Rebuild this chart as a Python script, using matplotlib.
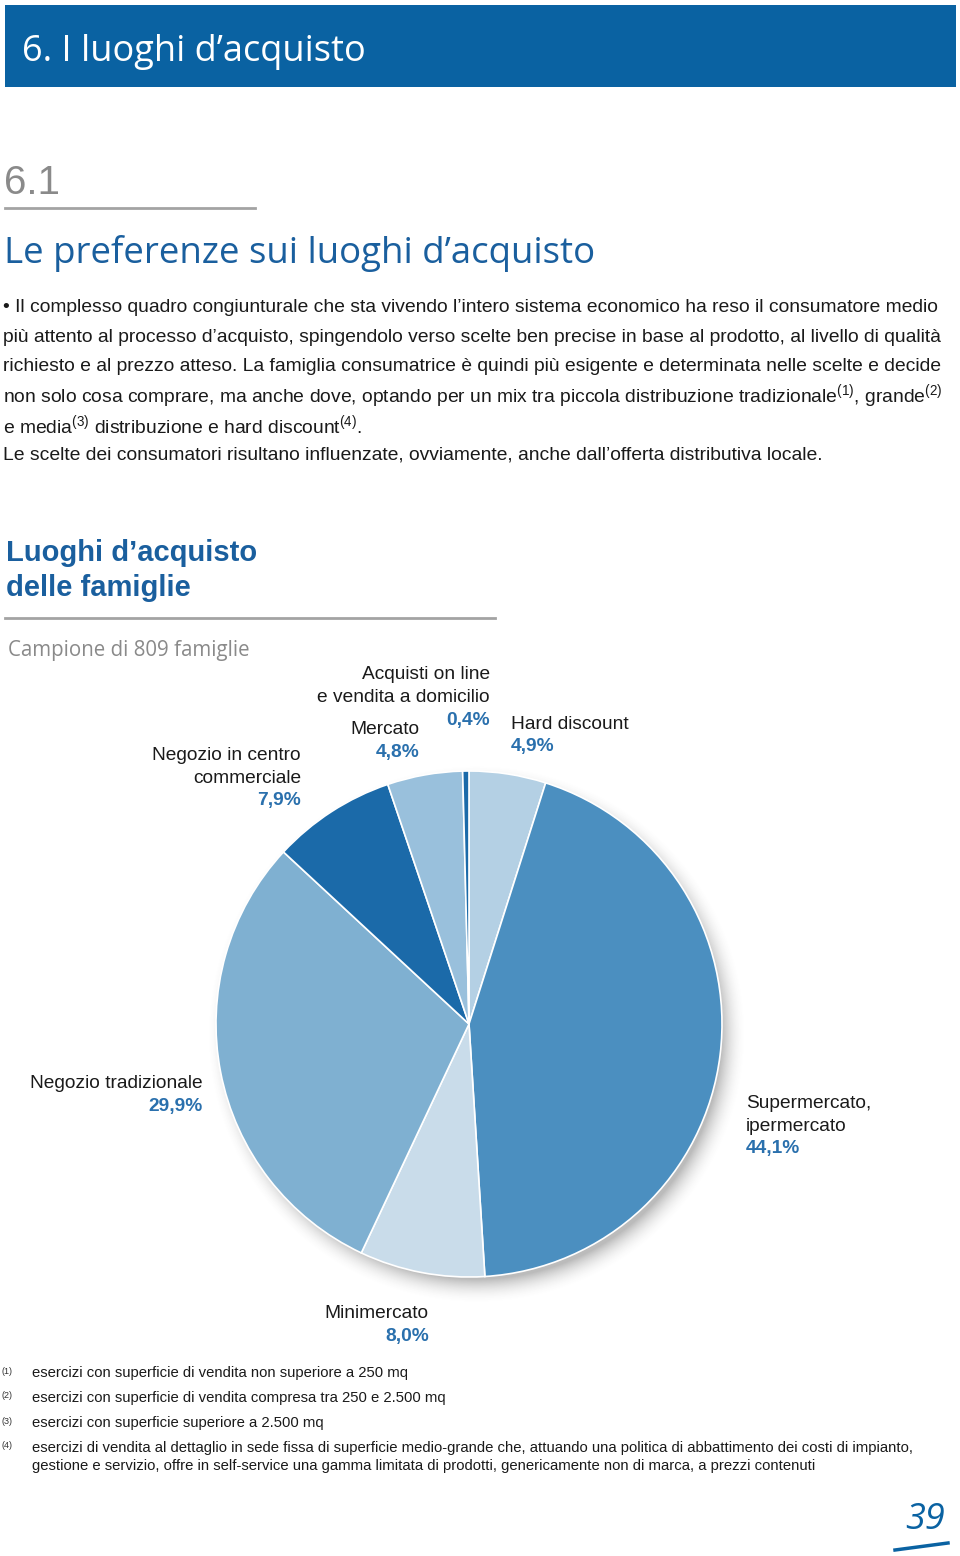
import numpy as np
import matplotlib
matplotlib.use("Agg")
import matplotlib.pyplot as plt
from matplotlib.patches import Rectangle

plt.rcParams['font.family'] = ['Liberation Sans', 'DejaVu Sans']
plt.rcParams['mathtext.fontset'] = 'custom'
plt.rcParams['mathtext.rm'] = 'Liberation Sans'

# ---- data ----
categories = ["Hard discount", "Supermercato,\nipermercato", "Minimercato",
              "Negozio tradizionale", "Negozio in centro\ncommerciale",
              "Mercato", "Acquisti on line\ne vendita a domicilio"]
shares = [4.9, 44.1, 8.0, 29.9, 7.9, 4.8, 0.4]
slice_colors = ["#b4d0e4", "#4b8fc0", "#c9dcea", "#7fb0d1", "#1b6aa9", "#99c0dc", "#1b6aa9"]

body_lines = [
    "• Il complesso quadro congiunturale che sta vivendo l’intero sistema economico ha reso il consumatore medio",
    "più attento al processo d’acquisto, spingendolo verso scelte ben precise in base al prodotto, al livello di qualità",
    "richiesto e al prezzo atteso. La famiglia consumatrice è quindi più esigente e determinata nelle scelte e decide",
    r"non solo cosa comprare, ma anche dove, optando per un mix tra piccola distribuzione tradizionale$^{\mathrm{(1)}}$, grande$^{\mathrm{(2)}}$",
    r"e media$^{\mathrm{(3)}}$ distribuzione e hard discount$^{\mathrm{(4)}}$.",
    "Le scelte dei consumatori risultano influenzate, ovviamente, anche dall’offerta distributiva locale.",
]
footnotes = [
    ("(1)", "esercizi con superficie di vendita non superiore a 250 mq"),
    ("(2)", "esercizi con superficie di vendita compresa tra 250 e 2.500 mq"),
    ("(3)", "esercizi con superficie superiore a 2.500 mq"),
    ("(4)", "esercizi di vendita al dettaglio in sede fissa di superficie medio-grande che, attuando una politica di abbattimento dei costi di impianto,\n"
            "gestione e servizio, offre in self-service una gamma limitata di prodotti, genericamente non di marca, a prezzi contenuti"),
]

W, H = 960, 1556
BLUE = "#0a62a2"
PCT = "#2a70ad"
GRAY = "#8a8a8a"

fig = plt.figure(figsize=(W / 100, H / 100), dpi=100)
fig.patch.set_facecolor("white")


def px(x, y):
    return x / W, 1 - y / H


def txt(x, y, s, **kw):
    kw.setdefault("va", "center")
    fig.text(*px(x, y), s, **kw)


# header band
fig.patches.append(Rectangle(px(5, 87), 951 / W, 82 / H, transform=fig.transFigure,
                             facecolor=BLUE, edgecolor="none"))
txt(22, 52, "6. I luoghi d’acquisto", color="white", fontsize=26,
    family=["Open Sans", "DejaVu Sans"])

# section number and title
txt(4, 183, "6.1", color=GRAY, fontsize=29)
fig.lines.append(plt.Line2D([5 / W, 255 / W], [1 - 208 / H, 1 - 208 / H],
                            transform=fig.transFigure, color="#8c8c8c", lw=2, alpha=0.8))
txt(4, 254, "Le preferenze sui luoghi d’acquisto", color="#1a5f9e", fontsize=26.4,
    family=["Open Sans", "DejaVu Sans"])

# body text
for i, line in enumerate(body_lines):
    txt(3, 308 + i * 29.4, line, color="#1a1a1a", fontsize=13.9)

# chart title
txt(6, 553, "Luoghi d’acquisto", color="#1a5f9e", fontsize=21, fontweight="bold")
txt(6, 588, "delle famiglie", color="#1a5f9e", fontsize=21, fontweight="bold")
fig.lines.append(plt.Line2D([5 / W, 495 / W], [1 - 618 / H, 1 - 618 / H],
                            transform=fig.transFigure, color="#8c8c8c", lw=2, alpha=0.8))
txt(8, 650, "Campione di 809 famiglie", color=GRAY, fontsize=14.8,
    family=["Open Sans", "DejaVu Sans"])

# pie
cx, cy, R = 469, 1024, 253
half = 300
ax = fig.add_axes([(cx - half) / W, (H - cy - half) / H, 2 * half / W, 2 * half / H])
lim = half / R
ax.set_xlim(-lim, lim)
ax.set_ylim(-lim, lim)
ax.set_aspect("equal")
ax.axis("off")

# soft drop shadow
g = np.linspace(-lim, lim, 600)
gx, gy = np.meshgrid(g, g)
d = np.hypot(gx - 0.03, gy + 0.04)
alpha = 0.38 * np.clip((1.07 - d) / 0.10, 0, 1) ** 2
shadow = np.zeros(gx.shape + (4,))
shadow[..., :3] = 0.3
shadow[..., 3] = alpha
ax.imshow(shadow, extent=(-lim, lim, -lim, lim), origin="lower", zorder=0)

ax.pie(shares, colors=slice_colors, startangle=90, counterclock=False, radius=1,
       wedgeprops=dict(edgecolor="white", linewidth=1.2, zorder=1))
ax.set_xlim(-lim, lim)
ax.set_ylim(-lim, lim)

# labels (name lines, percent) placed around the pie
pct_labels = [f"{v:.1f}".replace(".", ",") + "%" for v in shares]
label_pos = [
    # (x, y_name, y_pct, ha)
    (511, 724, 747, "left"),
    (746, 1115, 1149, "left"),
    (429, 1313, 1336, "right"),
    (203, 1083, 1106, "right"),
    (301, 767, 800, "right"),
    (420, 730, 752, "right"),
    (490, 686, 720, "right"),
]
for name, pct, (x, yn, yp, ha) in zip(categories, pct_labels, label_pos):
    txt(x, yn, name, ha=ha, multialignment=ha, color="#1a1a1a", fontsize=13.8,
        linespacing=1.42)
    txt(x, yp, pct, ha=ha, color=PCT, fontsize=13.8, fontweight="bold")

# footnotes
y = 1373
for mark, note in footnotes:
    txt(2, y - 2, mark, color="#333333", fontsize=6.5)
    if "\n" in note:
        txt(32, y + 9, note, color="#1a1a1a", fontsize=10.75, linespacing=1.3)
    else:
        txt(32, y, note, color="#1a1a1a", fontsize=10.75)
    y += 25

# page number
txt(905, 1520, "39", color=BLUE, fontsize=26, style="italic",
    family=["Open Sans", "DejaVu Sans"])
fig.lines.append(plt.Line2D([895 / W, 948 / W], [1 - 1550 / H, 1 - 1543 / H],
                            transform=fig.transFigure, color=BLUE, lw=2.5))

fig.savefig("out.png", dpi=100)
